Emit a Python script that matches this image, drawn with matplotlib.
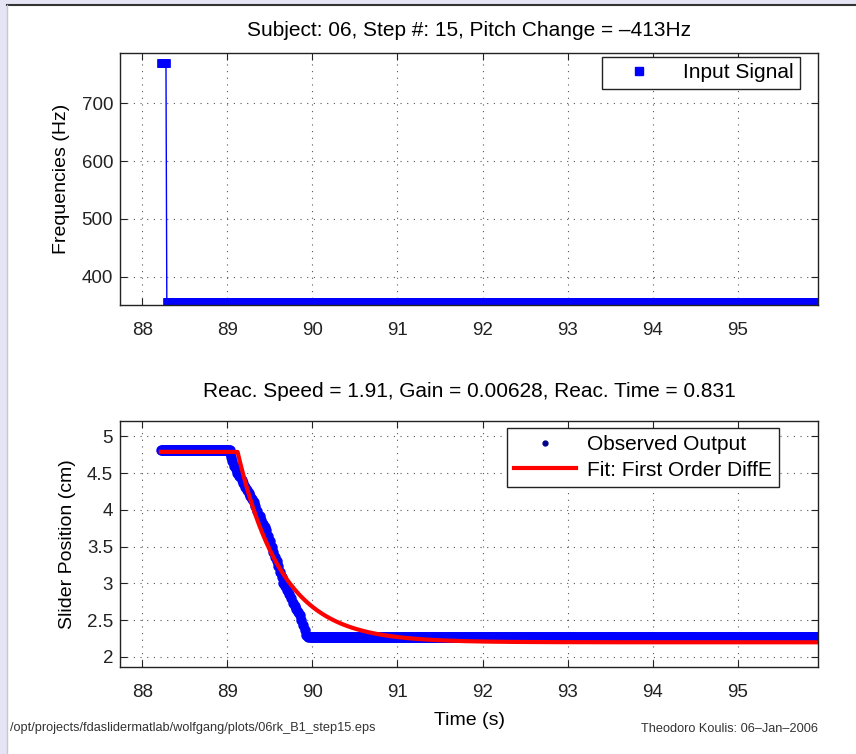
import numpy as np
import matplotlib
matplotlib.use("Agg")
import matplotlib.pyplot as plt
from matplotlib.lines import Line2D
from matplotlib.patches import Rectangle
from matplotlib.ticker import FormatStrFormatter

plt.rcParams['font.family'] = ['Liberation Sans', 'DejaVu Sans']

# ---- trial info
subject = "06"
step_no = 15
pitch_levels = [770, 357]      # Hz, before / after the pitch shift
shift_time = 88.29             # s
t_start, t_end = 88.22, 95.94
dt = 0.01

# ---- first order fit parameters
reac_speed = 1.91
gain = 0.00628
reac_time = 0.831
fit_start = 4.79

# ---- slider readings (cm)
pos_before = 4.81
pos_after = 2.27
move_t = [89.03, 89.04, 89.06, 89.08, 89.10, 89.12, 89.14, 89.17, 89.19, 89.21,
          89.23, 89.25, 89.27, 89.29, 89.31, 89.33, 89.35, 89.38, 89.40, 89.42,
          89.44, 89.46, 89.48, 89.50, 89.52, 89.54, 89.56, 89.58, 89.60, 89.62,
          89.64, 89.66, 89.68, 89.70, 89.73, 89.75, 89.77, 89.79, 89.81, 89.83,
          89.85, 89.87, 89.89, 89.91, 89.93, 89.95, 89.97]
move_pos = [4.78, 4.72, 4.66, 4.60, 4.55, 4.50, 4.46, 4.41, 4.36, 4.31,
            4.27, 4.23, 4.19, 4.15, 4.11, 4.05, 3.99, 3.92, 3.86, 3.81,
            3.77, 3.73, 3.65, 3.58, 3.50, 3.43, 3.36, 3.30, 3.23, 3.16,
            3.08, 3.00, 2.96, 2.91, 2.86, 2.80, 2.73, 2.69, 2.65, 2.61,
            2.57, 2.50, 2.43, 2.36, 2.29, 2.27, 2.27]

pitch_change = pitch_levels[1] - pitch_levels[0]

# input signal
t_in = np.arange(t_start, t_end + dt / 2, dt)
freq = np.where(t_in < shift_time, pitch_levels[0], pitch_levels[1])

# observed output
t_pre = np.arange(t_start, move_t[0], dt)
t_post = np.arange(move_t[-1] + dt, t_end + dt / 2, dt)
t_obs = np.concatenate([t_pre, move_t, t_post])
pos_obs = np.concatenate([np.full(len(t_pre), pos_before), move_pos,
                          np.full(len(t_post), pos_after)])

# fitted response
t_fit = np.linspace(t_start, t_end, 1500)
t_react = shift_time + reac_time
fit_end = fit_start + gain * pitch_change
pos_fit = np.where(t_fit < t_react, fit_start,
                   fit_end + (fit_start - fit_end) * np.exp(-reac_speed * (t_fit - t_react)))

W, H = 856, 754
fig = plt.figure(figsize=(W / 100, H / 100), dpi=100, facecolor='#e4e4f4')
fig.patches.append(Rectangle((7 / W, 0), 1, 1 - 5 / H, transform=fig.transFigure,
                             facecolor='white', edgecolor='none', zorder=-1))
fig.lines.append(Line2D([7 / W, 1], [1 - 4.5 / H, 1 - 4.5 / H], transform=fig.transFigure,
                        color='#333333', lw=1.5))
fig.lines.append(Line2D([6.5 / W, 6.5 / W], [0, 1 - 4.5 / H], transform=fig.transFigure,
                        color='#c8c8d4', lw=1))


def px_axes(left, top, right, bottom):
    return fig.add_axes([left / W, 1 - bottom / H, (right - left) / W, (bottom - top) / H])


def style(ax):
    for sp in ax.spines.values():
        sp.set_color('#222222')
        sp.set_linewidth(1.0)
    ax.tick_params(direction='in', top=True, right=True, length=5, width=0.8,
                   labelsize=13.5, pad=5, colors='#222222')
    ax.tick_params(axis='x', pad=12.5)
    ax.grid(True, linestyle=(0, (1, 5)), color='#555555', lw=0.8)
    ax.set_axisbelow(True)


fs = 15
lab_fs = 14

# ---- top: input signal
ax1 = px_axes(120, 52.7, 818, 305)
ax1.plot(t_in, freq, '-s', color='b', lw=1, ms=5.5, mew=0.5)
ax1.set_xlim(87.74, t_end)
ax1.set_ylim(351, 787.5)
ax1.set_xticks(range(88, 96))
ax1.set_yticks([400, 500, 600, 700])
style(ax1)
ax1.set_ylabel("Frequencies (Hz)", fontsize=lab_fs, labelpad=8)
ax1.set_title("Subject: %s, Step #: %d, Pitch Change = \u2013%dHz" % (subject, step_no, -pitch_change),
              fontsize=fs, pad=12)
h1 = Line2D([], [], ls='none', marker='s', color='b', ms=5.5)
leg1 = ax1.legend([h1], ["Input Signal"], loc='upper right',
                  bbox_to_anchor=((800 - 120) / 698, 1 - 4.5 / 252.3), borderaxespad=0,
                  fontsize=fs, fancybox=False, edgecolor='#222222', framealpha=1,
                  handlelength=3.0, handletextpad=0.6, borderpad=0.3)
leg1.get_frame().set_linewidth(1.0)

# ---- bottom: slider response
ax2 = px_axes(120, 421, 818, 667)
ax2.plot(t_obs, pos_obs, '.', color='b', ms=13)
ax2.plot(t_fit, pos_fit, '-', color='r', lw=3)
ax2.set_xlim(87.74, t_end)
ax2.set_ylim(1.86, 5.21)
ax2.set_xticks(range(88, 96))
ax2.set_yticks(np.arange(2, 5.01, 0.5))
ax2.yaxis.set_major_formatter(FormatStrFormatter('%g'))
style(ax2)
ax2.set_ylabel("Slider Position (cm)", fontsize=lab_fs, labelpad=8)
ax2.set_xlabel("Time (s)", fontsize=lab_fs, labelpad=8)
ax2.set_title("Reac. Speed = %.2f, Gain = %.5f, Reac. Time = %.3f" % (reac_speed, gain, reac_time),
              fontsize=fs, pad=17)
h_obs = Line2D([], [], ls='none', marker='.', color='#00008b', ms=7)
h_fit = Line2D([], [], color='r', lw=3)
leg2 = ax2.legend([h_obs, h_fit], ["Observed Output", "Fit: First Order DiffE"], loc='upper right',
                  bbox_to_anchor=((779 - 120) / 698, 1 - 7 / 246), borderaxespad=0,
                  fontsize=fs, fancybox=False, edgecolor='#222222', framealpha=1,
                  handlelength=3.0, handletextpad=0.5, borderpad=0.35, labelspacing=0.3)
leg2.get_frame().set_linewidth(1.0)

# ---- footer
fig.text(10 / W, 1 - 728 / H, "/opt/projects/fdaslidermatlab/wolfgang/plots/06rk_B1_step15.eps",
         fontsize=9.2, va='center', ha='left', color='#333333')
fig.text(818 / W, 1 - 729 / H, "Theodoro Koulis: 06\u2013Jan\u20132006",
         fontsize=9.2, va='center', ha='right', color='#333333')

fig.savefig("out.png", dpi=100, facecolor=fig.get_facecolor())
